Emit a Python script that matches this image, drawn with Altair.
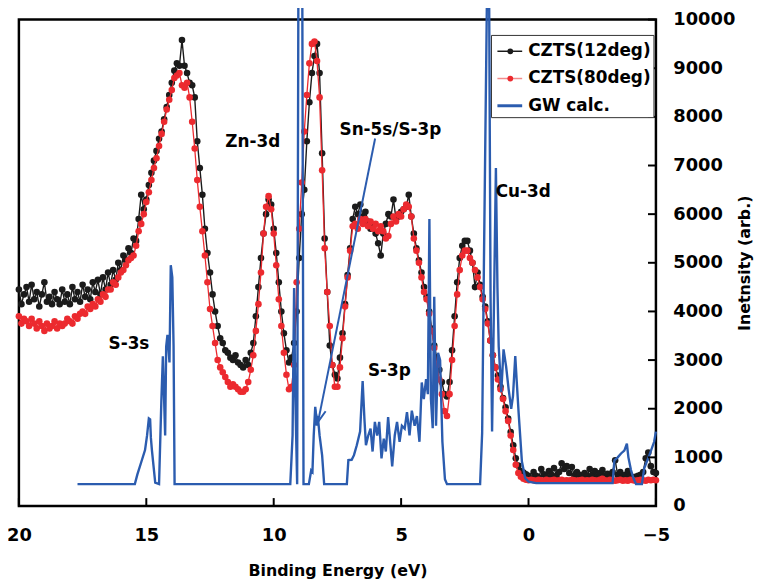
import altair as alt
import pandas as pd

# ---------------- data ----------------
E_START = 20.0   # first energy of the measured grid (eV)
E_STEP = 0.1     # grid spacing (eV), decreasing

CZTS12 = [
    4450, 4150, 4350, 4500, 4200, 4550, 4250, 4400, 4100, 4350,   # 20.0 .. 19.1
    4600, 4200, 4300, 4150, 4400, 4250, 4150, 4450, 4200, 4350,   # 19.0 .. 18.1
    4150, 4500, 4250, 4400, 4200, 4550, 4300, 4450, 4250, 4600,   # 18.0 .. 17.1
    4400, 4650, 4350, 4700, 4450, 4800, 4550, 4850, 4650, 5000,   # 17.0 .. 16.1
    4850, 5150, 5050, 5300, 5200, 5500, 5450, 5900, 6400, 6100,   # 16.0 .. 15.1
    6300, 6600, 6850, 7100, 7300, 7550, 7700, 7950, 8200, 8450,   # 15.0 .. 14.1
    8700, 8950, 9100, 9050, 9580, 9050, 8900, 8700, 8650, 8400,   # 14.0 .. 13.1
    7500, 6950, 6400, 5700, 5200, 4800, 4350, 4000, 3700, 3450,   # 13.0 .. 12.1
    3350, 3200, 3150, 3050, 3000, 3100, 2950, 2900, 2850, 3000,   # 12.0 .. 11.1
    2900, 3150, 3350, 3900, 4500, 5100, 5600, 6000, 6300, 6200,   # 11.0 .. 10.1
    5700, 5200, 4600, 4000, 3550, 3200, 2950, 3050, 3350, 4000,   # 10.0 .. 9.1
    5100, 6000, 6500, 7500, 8300, 8900, 9250, 9500, 8900, 7250,   # 9.0 .. 8.1
    5500, 4400, 3300, 2900, 2700, 2620, 3050, 3550, 4150, 4750,   # 8.0 .. 7.1
    5300, 5900, 6150, 6000, 6200, 5950, 6050, 5850, 5700, 5750,   # 7.0 .. 6.1
    5600, 5400, 5150, 5600, 5800, 6000, 5950, 6300, 5900, 5950,   # 6.0 .. 5.1
    6050, 6100, 6150, 6400, 5950, 5600, 5300, 5050, 4800, 4500,   # 5.0 .. 4.1
    4300, 4000, 3650, 3300, 3050, 2800, 2550, 2300, 2250, 2550,   # 4.0 .. 3.1
    3200, 3900, 4600, 5100, 5350, 5450, 5450, 5250, 5000, 4500,   # 3.0 .. 2.1
    4800, 4550, 4300, 4100, 3800, 3400, 3100, 2850, 2680, 2450,   # 2.0 .. 1.1
    2220, 2030, 1800, 1520, 1250, 980, 830, 720, 690, 650,        # 1.0 .. 0.1
    620, 560, 700, 620, 580, 760, 650, 600, 720, 640,             # 0.0 .. -0.9
    780, 620, 700, 880, 760, 820, 680, 800, 620, 700,             # -1.0 .. -1.9
    640, 600, 680, 620, 760, 640, 720, 600, 680, 740,             # -2.0 .. -2.9
    620, 660, 600, 700, 940, 640, 700, 600, 640, 720,             # -3.0 .. -3.9
    620, 580, 600, 620, 640, 700, 980, 1100, 820, 700,            # -4.0 .. -4.9
    680,                                                          # -5.0
]

CZTS80 = [
    3900, 3750, 3850, 3800, 3700, 3850, 3750, 3650, 3800, 3700,   # 20.0 .. 19.1
    3600, 3750, 3650, 3700, 3800, 3650, 3750, 3700, 3750, 3850,   # 19.0 .. 18.1
    3800, 3750, 3900, 3850, 3950, 4000, 3950, 4100, 4050, 4150,   # 18.0 .. 17.1
    4100, 4250, 4200, 4350, 4300, 4450, 4450, 4600, 4550, 4700,   # 17.0 .. 16.1
    4800, 4850, 4950, 5050, 5100, 5150, 5350, 5650, 5800, 6000,   # 16.0 .. 15.1
    6250, 6450, 6700, 6950, 7150, 7400, 7650, 7900, 8150, 8350,   # 15.0 .. 14.1
    8550, 8800, 8850, 8900, 8650, 8600, 8700, 8400, 7900, 7350,   # 14.0 .. 13.1
    6700, 6150, 5650, 5150, 4600, 4050, 3700, 3350, 3000, 2850,   # 13.0 .. 12.1
    2750, 2650, 2550, 2450, 2500, 2450, 2400, 2350, 2350, 2400,   # 12.0 .. 11.1
    2550, 2800, 3100, 3600, 4150, 4800, 5600, 6150, 6370, 6100,   # 11.0 .. 10.1
    5600, 4950, 4250, 3700, 3150, 2700, 2400, 2450, 2900, 4600,   # 10.0 .. 9.1
    5700, 6650, 7700, 8450, 9100, 9500, 9550, 9150, 8400, 6900,   # 9.0 .. 8.1
    5300, 4400, 3700, 2900, 2450, 2450, 2850, 3450, 4100, 4700,   # 8.0 .. 7.1
    5250, 5750, 5800, 5700, 5900, 5800, 5900, 5750, 5850, 5700,   # 7.0 .. 6.1
    5800, 5650, 5750, 5650, 5500, 5550, 5800, 5950, 5850, 6000,   # 6.0 .. 5.1
    5950, 6100, 6200, 6150, 5950, 5500, 5250, 5000, 4700, 4400,   # 5.0 .. 4.1
    4250, 3950, 3600, 3250, 2900, 2600, 2300, 1950, 1850, 2300,   # 4.0 .. 3.1
    3000, 3700, 4350, 4850, 5150, 5250, 5250, 5100, 5000, 4850,   # 3.0 .. 2.1
    4700, 4500, 4250, 4050, 3750, 3400, 3100, 2850, 2600, 2400,   # 2.0 .. 1.1
    2200, 1950, 1750, 1450, 1150, 850, 680, 600, 560, 540,        # 1.0 .. 0.1
    530, 540, 530, 520, 540, 530, 520, 540, 520, 530,             # 0.0 .. -0.9
    540, 520, 530, 540, 520, 530, 520, 540, 530, 520,             # -1.0 .. -1.9
    530, 540, 520, 530, 520, 540, 530, 520, 540, 560,             # -2.0 .. -2.9
    530, 520, 540, 530, 520, 530, 540, 520, 530, 520,             # -3.0 .. -3.9
    540, 530, 520, 530, 540, 530, 520, 540, 530, 540,             # -4.0 .. -4.9
    530,                                                          # -5.0
]

GW_E = [17.7, 15.45, 15.35, 15.2, 15.05, 14.97, 14.9, 14.85, 14.82, 14.78,
        14.65, 14.5, 14.41, 14.35, 14.26, 14.22, 14.17, 14.09, 14.04, 13.98,
        13.93, 13.89,
        9.35, 9.3, 9.26, 9.2, 9.16, 9.12, 9.08, 9.03, 8.88, 8.83,
        8.62, 8.53, 8.48, 8.43, 8.37, 8.31, 8.27, 8.2, 8.1, 8.02,
        7.13, 7.07, 6.94, 6.85, 6.74, 6.61, 6.51, 6.44, 6.38, 6.29,
        6.2, 6.12, 6.03, 5.94, 5.86, 5.77, 5.68, 5.6, 5.51, 5.42,
        5.35, 5.25, 5.16, 5.06, 4.97, 4.86, 4.77, 4.67, 4.58, 4.47,
        4.38, 4.28, 4.19, 4.11, 4.02, 3.95, 3.89, 3.83, 3.76, 3.7,
        3.63, 3.55, 3.47, 3.38, 3.28, 3.2,
        1.9, 1.82, 1.75, 1.62, 1.55, 1.49, 1.43, 1.36, 1.28, 1.22,
        1.17, 1.07, 0.98, 0.88, 0.78, 0.68, 0.61, 0.52, 0.46, 0.39,
        0.26, 0.13, 0.0, -0.3,
        -3.3, -3.37, -3.5, -3.63, -3.76, -3.86, -3.92, -4.02, -4.12, -4.22,
        -4.45, -4.54, -4.74, -4.93, -5.0]
GW_I = [450, 450, 650, 900, 1150, 1450, 1800, 1780, 1400, 1150,
        480, 450, 2150, 3080, 1450, 3280, 3520, 2950, 4950, 4700,
        3300, 450,
        450, 1000, 1450, 4480, 2500, 1450, 450, 11000, 11000, 450,
        450, 730, 700, 1450, 2040, 1650, 1850, 1450, 1040, 450,
        450, 945, 950, 1045, 1250, 1530, 2570, 1790, 1250, 1450,
        1590, 1120, 1730, 1450, 1730, 980, 1385, 1120, 1830, 1250,
        815, 1450, 1730, 1320, 1650, 1590, 1930, 1450, 1960, 1650,
        1850, 1320, 2540, 2200, 2610, 2300, 5900, 2200, 1600, 4300,
        1650, 3150, 3000, 1320, 550, 450,
        450, 1500, 5000, 11000, 11000, 4300, 1530, 4000, 6950, 4500,
        3280, 2340, 3220, 2870, 2400, 2000, 2260, 3080, 2540, 1930,
        915, 570, 500, 470,
        470, 940, 1000, 1080, 1140, 1280, 1000, 740, 570, 450,
        450, 775, 1040, 1320, 1530]

SERIES = ["CZTS(12deg)", "CZTS(80deg)", "GW calc."]
COLORS = ["#1b1b1b", "#ec2a2f", "#2b5caf"]
X_TICKS = [20, 15, 10, 5, 0, -5]
Y_TICKS = [0, 1000, 2000, 3000, 4000, 5000, 6000, 7000, 8000, 9000, 10000]

NOTE_TEXT = ["S-3s", "Zn-3d", "Sn-5s/S-3p", "S-3p", "Cu-3d"]
NOTE_E = [15.68, 10.82, 5.42, 5.46, 0.21]
NOTE_I = [3320, 7475, 7720, 2770, 6456]

ARROW_E = [6.02, 8.26]   # from label to the Sn-5s/S-3p calculated peak
ARROW_I = [7556, 1730]

# ---------------- layout / style ----------------
FONT = "DejaVu Sans"
W, H = 643, 491
LEG_BOX = (477, 641, 16, 99)          # legend frame, px inside the plot area
LEG_ROW0, LEG_ROW_STEP = 32, 27.5     # legend row centres
LEG_SYM_X = (483, 508)                # legend line sample
LEG_DOT_X, LEG_TEXT_X = 496, 514
LEG_LINE_COLORS = [COLORS[0], "#f28c8c", COLORS[2]]
LEG_LINE_WIDTHS = [1.5, 1.5, 3]
DOT_SIZE = 44

assert len(CZTS12) == len(CZTS80) == 251
assert len(GW_E) == len(GW_I)

energies = [round(E_START - E_STEP * i, 1) for i in range(len(CZTS12))]
df12 = pd.DataFrame({"E": energies, "I": CZTS12, "series": SERIES[0]})
df80 = pd.DataFrame({"E": energies, "I": CZTS80, "series": SERIES[1]})
dfgw = pd.DataFrame({"E": GW_E, "I": GW_I, "series": SERIES[2]})
dfnotes = pd.DataFrame({"E": NOTE_E, "I": NOTE_I, "text": NOTE_TEXT})
dfarrow = pd.DataFrame({"E": [ARROW_E[0]], "I": [ARROW_I[0]],
                        "E2": [ARROW_E[1]], "I2": [ARROW_I[1]]})
dfhead = pd.DataFrame({"E": [ARROW_E[1]], "I": [ARROW_I[1]]})
dfxt = pd.DataFrame({"E": X_TICKS})
dfyt = pd.DataFrame({"I": Y_TICKS})
dfleg = pd.DataFrame({
    "series": SERIES,
    "py": [LEG_ROW0 + i * LEG_ROW_STEP for i in range(len(SERIES))],
    "lc": LEG_LINE_COLORS,
    "sw": LEG_LINE_WIDTHS,
    "dot": [True, True, False],
})

xs = alt.Scale(domain=[-5, 20], reverse=True, nice=False, zero=False)
ys = alt.Scale(domain=[0, 10000], nice=False, zero=False)
cs = alt.Scale(domain=SERIES, range=COLORS)

x_axis = alt.Axis(values=X_TICKS, title="Binding Energy (eV)", ticks=False, domain=False,
                  grid=False, labelFont=FONT, labelFontWeight="bold", labelFontSize=18,
                  labelColor="black", labelPadding=21, labelFlush=False, labelOverlap=False,
                  titleFont=FONT, titleFontSize=16, titleFontWeight="bold", titleColor="black",
                  titleY=65, titleBaseline="middle")
y_axis = alt.Axis(values=Y_TICKS, orient="right", title="Inetnsity (arb.)", ticks=False,
                  format="d",
                  domain=False, grid=False, labelFont=FONT, labelFontWeight="bold",
                  labelFontSize=18, labelColor="black", labelPadding=17, labelFlush=False,
                  labelOverlap=False, titleFont=FONT, titleFontSize=16, titleFontWeight="bold",
                  titleColor="black", titleAngle=270, titleX=89, titleY=H / 2,
                  titleAlign="center", titleBaseline="middle")

color_enc = alt.Color("series:N", scale=cs, legend=None)

line12 = alt.Chart(df12).mark_line(strokeWidth=1.4).encode(
    x=alt.X("E:Q", scale=xs, axis=x_axis),
    y=alt.Y("I:Q", scale=ys, axis=y_axis),
    color=color_enc,
)
pts12 = alt.Chart(df12).mark_point(filled=True, size=DOT_SIZE, opacity=1).encode(
    x=alt.X("E:Q", scale=xs), y=alt.Y("I:Q", scale=ys), color=color_enc)
line80 = alt.Chart(df80).mark_line(strokeWidth=1.3).encode(
    x=alt.X("E:Q", scale=xs), y=alt.Y("I:Q", scale=ys), color=color_enc)
pts80 = alt.Chart(df80).mark_point(filled=True, size=DOT_SIZE, opacity=1).encode(
    x=alt.X("E:Q", scale=xs), y=alt.Y("I:Q", scale=ys), color=color_enc)
linegw = alt.Chart(dfgw).mark_line(strokeWidth=2.4).encode(
    x=alt.X("E:Q", scale=xs), y=alt.Y("I:Q", scale=ys), color=color_enc)

xticks = alt.Chart(dfxt).mark_rule(color="black", strokeWidth=2).encode(
    x=alt.X("E:Q", scale=xs), y=alt.value(H - 8), y2=alt.value(H))
yticks = alt.Chart(dfyt).mark_rule(color="black", strokeWidth=2).encode(
    y=alt.Y("I:Q", scale=ys), x=alt.value(W - 8), x2=alt.value(W))

notes = alt.Chart(dfnotes).mark_text(font=FONT, fontSize=17, fontWeight="bold",
                                     color="black", align="center", baseline="middle").encode(
    x=alt.X("E:Q", scale=xs), y=alt.Y("I:Q", scale=ys), text="text:N")

arrow = alt.Chart(dfarrow).mark_rule(color=COLORS[2], strokeWidth=2).encode(
    x=alt.X("E:Q", scale=xs), y=alt.Y("I:Q", scale=ys), x2="E2:Q", y2="I2:Q")
head = alt.Chart(dfhead).mark_point(shape="M-0.45,1L0,0L0.45,1", size=576, filled=False,
                                    strokeWidth=2, color=COLORS[2], angle=191.4,
                                    opacity=1).encode(
    x=alt.X("E:Q", scale=xs), y=alt.Y("I:Q", scale=ys))

# legend drawn as marks
leg_box = alt.Chart(dfleg.head(1)).mark_rect(fill="white", stroke="#333333",
                                            strokeWidth=1).encode(
    x=alt.value(LEG_BOX[0]), x2=alt.value(LEG_BOX[1]),
    y=alt.value(LEG_BOX[2]), y2=alt.value(LEG_BOX[3]))
leg_lines = alt.Chart(dfleg).mark_rule().encode(
    x=alt.value(LEG_SYM_X[0]), x2=alt.value(LEG_SYM_X[1]),
    y=alt.Y("py:Q", scale=None),
    color=alt.Color("lc:N", scale=None),
    strokeWidth=alt.StrokeWidth("sw:Q", scale=None))
leg_dots = alt.Chart(dfleg).transform_filter("datum.dot").mark_point(
    filled=True, size=34, opacity=1).encode(
    x=alt.value(LEG_DOT_X), y=alt.Y("py:Q", scale=None), color=color_enc)
leg_text = alt.Chart(dfleg).mark_text(font=FONT, fontSize=17, fontWeight="bold",
                                      color="black", align="left",
                                      baseline="middle").encode(
    x=alt.value(LEG_TEXT_X), y=alt.Y("py:Q", scale=None), text="series:N")

chart = alt.layer(
    line12, pts12, line80, pts80, linegw, xticks, yticks, notes, arrow, head,
    leg_box, leg_lines, leg_dots, leg_text
).properties(
    width=W, height=H,
    padding={"left": 11, "top": 9, "right": 100, "bottom": 72},
    autosize=alt.AutoSizeParams(type="none"),
    background="white",
).configure_view(stroke="black", strokeWidth=2.5)

chart.save("out.html", embed_options={"renderer": "svg", "actions": False})
